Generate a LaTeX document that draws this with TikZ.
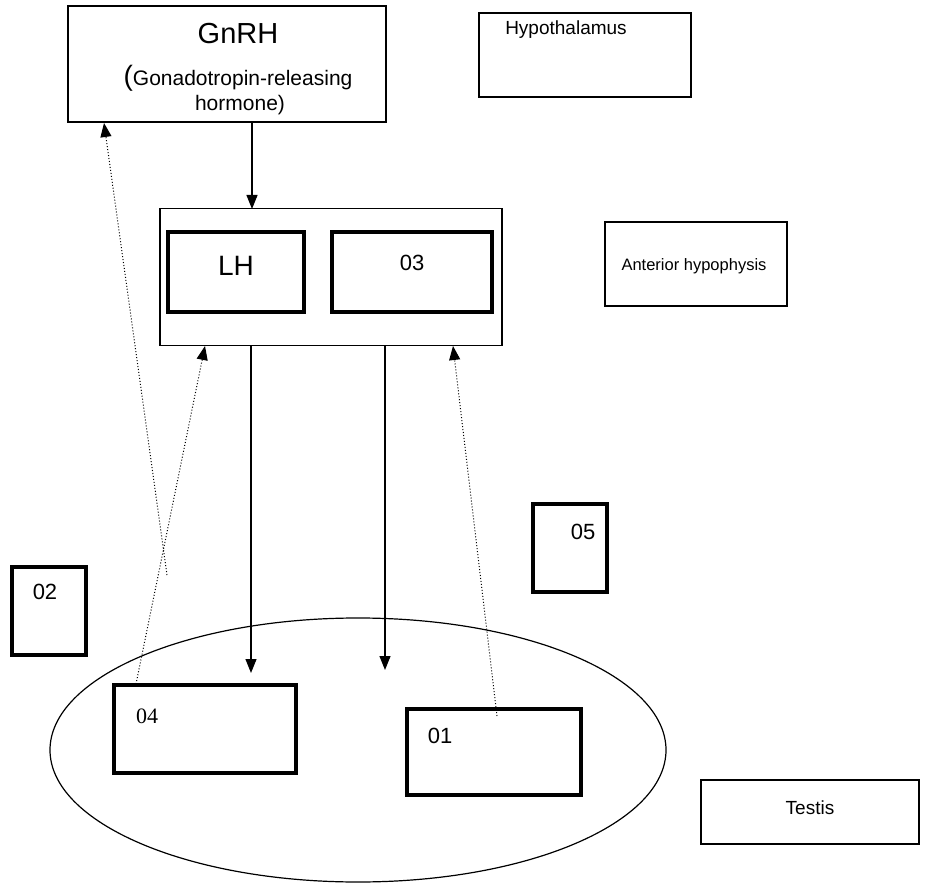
\documentclass[tikz,border=0pt]{standalone}
\usepackage{fontspec}
\setmainfont{Liberation Sans}
\newfontfamily\serifnum{Liberation Serif}
\usetikzlibrary{arrows.meta}
\begin{document}
\begin{tikzpicture}[x=1pt,y=-1pt,
  thinbox/.style={draw,line width=1.2pt,rectangle,inner sep=0pt},
  thickbox/.style={draw,line width=4.5pt,rectangle,inner sep=0pt},
  lbl/.style={inner sep=0pt,anchor=center},
  solidarrow/.style={line width=1.2pt,-{Triangle[length=14pt,width=11pt]}},
  dotarrow/.style={line width=1pt,dotted,-{Triangle[length=14pt,width=11pt]}}]
\useasboundingbox (0,0) rectangle (932,890);
% boxes
\node[thinbox,minimum width=318pt,minimum height=116pt] (gnrh) at (227,64) {};
\node[lbl,font=\fontsize{29}{29}\selectfont] at (238,34) {GnRH};
\node[lbl,font=\fontsize{21}{21}\selectfont] at (238,78) {{\fontsize{28}{28}\selectfont(}Gonadotropin-releasing};
\node[lbl,font=\fontsize{21}{21}\selectfont] at (240,105) {hormone)};
\node[thinbox,minimum width=212pt,minimum height=84pt] (hypo) at (585,55) {};
\node[lbl,font=\fontsize{19}{19}\selectfont,anchor=north] at (566,21) {Hypothalamus};
\node[thinbox,minimum width=342pt,minimum height=137pt] (ant) at (331,277) {};
\node[thickbox,minimum width=136pt,minimum height=80pt] (lh) at (236,272) {};
\node[lbl,font=\fontsize{28}{28}\selectfont] at (236,266) {LH};
\node[thickbox,minimum width=160pt,minimum height=80pt] (b03) at (412,272) {};
\node[lbl,font=\fontsize{22}{22}\selectfont] at (412,263) {03};
\node[thinbox,minimum width=182pt,minimum height=84pt] (antlbl) at (696,264) {};
\node[lbl,font=\fontsize{16.5}{16.5}\selectfont] at (694,266) {Anterior hypophysis};
\node[thickbox,minimum width=74pt,minimum height=88pt] (b05) at (570,548) {};
\node[lbl,font=\fontsize{22}{22}\selectfont] at (583,532) {05};
\node[thickbox,minimum width=74pt,minimum height=88pt] (b02) at (49,611) {};
\node[lbl,font=\fontsize{22}{22}\selectfont] at (45,592) {02};
\draw[line width=1.2pt] (358,750) ellipse [x radius=308pt, y radius=132pt];
\node[thickbox,minimum width=182pt,minimum height=88pt] (b04) at (205,729) {};
\node[lbl,font=\serifnum\fontsize{22}{22}\selectfont] at (147,716) {04};
\node[thickbox,minimum width=174pt,minimum height=86pt] (b01) at (494,752) {};
\node[lbl,font=\fontsize{22}{22}\selectfont] at (440,736) {01};
\node[thinbox,minimum width=218pt,minimum height=64pt] (testis) at (810,812) {};
\node[lbl,font=\fontsize{19}{19}\selectfont] at (810,808) {Testis};
% connectors
\coordinate (a1s) at (252,122);
\coordinate (a1e) at (252,209);
\draw[solidarrow] (a1s) -- (a1e);
\coordinate (a2s) at (251,346);
\coordinate (a2e) at (251,673);
\draw[solidarrow] (a2s) -- (a2e);
\coordinate (a3s) at (385,346);
\coordinate (a3e) at (385,670);
\draw[solidarrow] (a3s) -- (a3e);
\coordinate (d1s) at (167,575);
\coordinate (d1e) at (104,123);
\draw[dotarrow] (d1s) -- (d1e);
\coordinate (d2s) at (136,684);
\coordinate (d2e) at (205,346);
\draw[dotarrow] (d2s) -- (d2e);
\coordinate (d3s) at (497,716);
\coordinate (d3e) at (453,346);
\draw[dotarrow] (d3s) -- (d3e);
\end{tikzpicture}
\end{document}
